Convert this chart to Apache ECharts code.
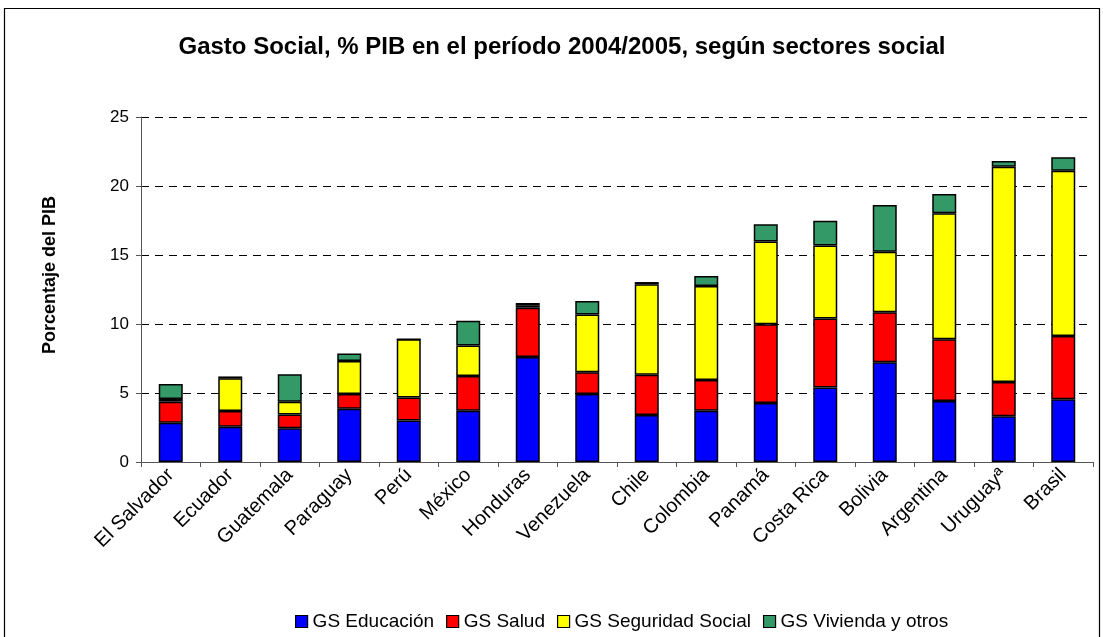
<!DOCTYPE html>
<html><head><meta charset="utf-8">
<script src="https://cdn.jsdelivr.net/npm/echarts@6/dist/echarts.min.js"></script>
<style>html,body{margin:0;padding:0;background:#fff}#c{width:1103px;height:637px}</style>
</head><body><div id="c"></div>
<script>
const categories = ['El Salvador','Ecuador','Guatemala','Paraguay','Perú','México','Honduras','Venezuela','Chile','Colombia','Panamá','Costa Rica','Bolivia','Argentina','Uruguayª','Brasil'];
const educacion = [2.85,2.56,2.44,3.86,3.00,3.72,7.61,4.93,3.41,3.72,4.28,5.39,7.22,4.42,3.31,4.54];
const salud     = [1.52,1.13,1.01,1.07,1.67,2.51,3.57,1.57,2.92,2.22,5.70,5.00,3.63,4.47,2.49,4.59];
const seguridad = [0.20,2.37,0.92,2.39,4.23,2.22,0.14,4.18,6.55,6.81,5.99,5.29,4.39,9.13,15.60,11.98];
const vivienda  = [1.08,0.14,1.98,0.55,0.00,1.79,0.20,0.99,0.16,0.73,1.25,1.81,3.38,1.40,0.41,0.97];
const yTicks = [0,5,10,15,20,25];

const names = ['GS Educación','GS Salud','GS Seguridad Social','GS Vivienda y otros'];
const colors = ['#0000FF','#FF0000','#FFFF00','#339966'];
const datas = [educacion, salud, seguridad, vivienda];
const font = 'Liberation Sans, Arial, sans-serif';

const chart = echarts.init(document.getElementById('c'));
chart.setOption({
  animation:false,
  backgroundColor:'#fff',
  graphic:[
    {type:'rect',shape:{x:4.5,y:8.5,width:1095,height:640},style:{fill:'none',stroke:'#000',lineWidth:1.2},silent:true},
    {type:'text',x:50,y:275,rotation:Math.PI/2,style:{text:'Porcentaje del PIB',fontFamily:font,fontSize:18,fontWeight:'bold',fill:'#000',align:'center',verticalAlign:'middle'}}
  ],
  title:{text:'Gasto Social, % PIB en el período 2004/2005, según sectores social',left:557,top:30,textAlign:'center',
    textStyle:{fontFamily:font,fontSize:24,fontWeight:'bold',color:'#000'}},
  legend:{data:names,top:607,left:290,itemWidth:12,itemHeight:12,itemGap:12,
    textStyle:{fontFamily:font,fontSize:19,color:'#000'},icon:'rect',
    itemStyle:{borderColor:'#000',borderWidth:1.2}},
  grid:{left:141,right:10,top:117,bottom:175},
  xAxis:{type:'category',data:categories,
    axisLine:{lineStyle:{color:'#555',width:1}},
    axisTick:{show:true,alignWithLabel:false,length:5,lineStyle:{color:'#555'}},
    axisLabel:{rotate:45,interval:0,fontFamily:font,fontSize:20,color:'#000',margin:10}},
  yAxis:{type:'value',min:0,max:25,interval:5,
    axisLine:{show:true,lineStyle:{color:'#555'}},
    axisTick:{show:true,length:5,lineStyle:{color:'#555'}},
    axisLabel:{fontFamily:font,fontSize:17,color:'#000',margin:12,
      formatter:v=>yTicks.includes(v)?String(v):''},
    splitLine:{show:true,lineStyle:{color:'#000',type:[8,6],width:1}}},
  series: names.map((n,i)=>({name:n,type:'bar',stack:'total',data:datas[i],barWidth:24,
    itemStyle:{color:colors[i],borderColor:'#000',borderWidth:1.5}}))
});
</script></body></html>
